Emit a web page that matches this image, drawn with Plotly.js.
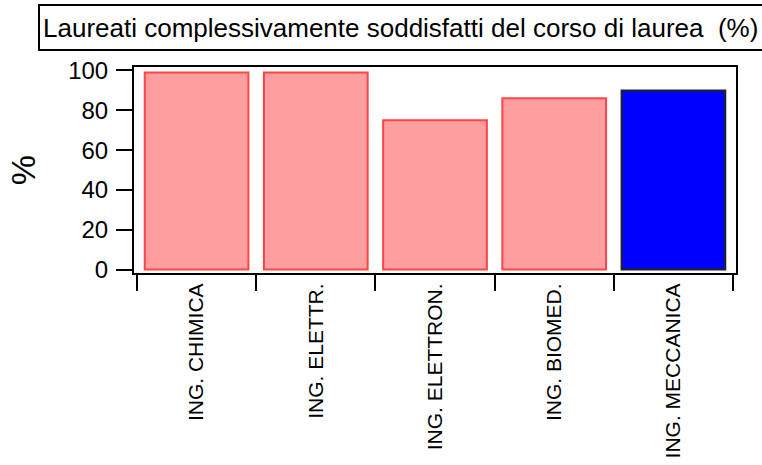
<!DOCTYPE html>
<html>
<head>
<meta charset="utf-8">
<script src="https://cdn.plot.ly/plotly-3.0.1.min.js"></script>
<style>html,body{margin:0;padding:0;background:#fff;}#chart{width:762px;height:465px;}</style>
</head>
<body>
<div id="chart"></div>
<script>
var categories = ["ING. CHIMICA", "ING. ELETTR.", "ING. ELETTRON.", "ING. BIOMED.", "ING. MECCANICA"];
var values = [99, 99, 75, 86, 90];
var yTickVals = [0, 20, 40, 60, 80, 100];
var chartTitle = "Laureati complessivamente soddisfatti del corso di laurea  (%)";
var yTitle = "%";

var fillColors = categories.map(function (c, i) { return i === categories.length - 1 ? "#0000FF" : "#FF9E9F"; });
var lineColors = categories.map(function (c, i) { return i === categories.length - 1 ? "#222222" : "#FF4545"; });

var font = "Liberation Sans, Arial, sans-serif";

var data = [{
  type: "bar",
  x: categories,
  y: values,
  width: 0.87,
  marker: { color: fillColors, line: { color: lineColors, width: 2 } },
  hoverinfo: "x+y"
}];

var layout = {
  width: 762,
  height: 465,
  margin: { l: 134, r: 26, t: 67, b: 192, pad: 0 },
  paper_bgcolor: "#ffffff",
  plot_bgcolor: "#ffffff",
  showlegend: false,
  font: { family: font, color: "#000000" },
  xaxis: {
    type: "category",
    range: [-0.525, 4.525],
    tickson: "boundaries",
    ticks: "outside",
    ticklen: 16,
    tickwidth: 2,
    tickcolor: "#000",
    tickangle: -90,
    tickfont: { size: 21, family: font, color: "#000" },
    showline: true,
    mirror: true,
    linecolor: "#000",
    linewidth: 2,
    showgrid: false,
    zeroline: false,
    fixedrange: true
  },
  yaxis: {
    range: [-1.75, 101.75],
    tickvals: yTickVals,
    ticks: "outside",
    ticklen: 16,
    tickwidth: 2,
    tickcolor: "#000",
    tickfont: { size: 24, family: font, color: "#000" },
    ticklabelstandoff: 3,
    showline: true,
    mirror: true,
    linecolor: "#000",
    linewidth: 2,
    showgrid: false,
    zeroline: false,
    fixedrange: true,
    title: { text: yTitle, font: { size: 34, family: font, color: "#000" }, standoff: 22 }
  },
  annotations: [{
    text: chartTitle,
    xref: "paper", yref: "paper",
    x: -0.1595, y: 1.1917,
    xanchor: "left", yanchor: "middle",
    align: "left",
    width: 760,
    height: 37,
    showarrow: false,
    bordercolor: "#000",
    borderwidth: 2,
    borderpad: 3,
    bgcolor: "#ffffff",
    font: { size: 26, family: font, color: "#000" }
  }]
};

Plotly.newPlot("chart", data, layout, { displayModeBar: false, staticPlot: true });
</script>
</body>
</html>
